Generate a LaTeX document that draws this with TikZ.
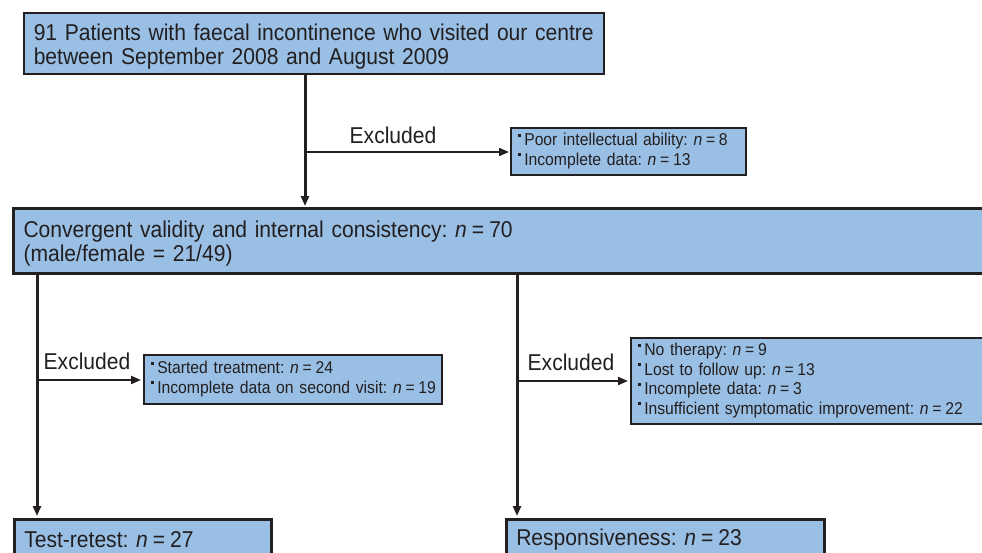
\documentclass[tikz,border=0pt]{standalone}
\usepackage{fontspec}
\setmainfont[FakeStretch=0.92]{Liberation Sans}
\usetikzlibrary{arrows.meta,calc}
\definecolor{boxblue}{RGB}{153,191,228}
\definecolor{edge}{RGB}{35,31,32}
\newcommand{\bul}{\raisebox{0.55em}{\rule{3pt}{3pt}}\hspace{3.5pt}}
\newcommand{\nn}{\textit{n}\hspace{0.22em}=\hspace{0.22em}}
\newcommand{\topstrut}{\rule{0pt}{22.5pt}}
\begin{document}
\frenchspacing
\begin{tikzpicture}[x=1pt,y=-1pt,
  bigbox/.style={draw=edge,fill=boxblue,anchor=north west,align=left,inner xsep=10pt,inner ysep=0pt,text=edge,font=\fontsize{22.9}{24}\selectfont\frenchspacing},
  smallbox/.style={draw=edge,fill=boxblue,line width=1.5pt,anchor=north west,align=left,inner xsep=7pt,inner ysep=0pt,text=edge,font=\fontsize{17.1}{19.5}\selectfont\frenchspacing},
  conn/.style={draw=edge,line width=3pt,-{Triangle[length=10pt,width=8pt]}},
  hconn/.style={draw=edge,line width=2pt,-{Triangle[length=10pt,width=8pt]}},
  lbl/.style={font=\fontsize{22.9}{24}\selectfont,text=edge,inner sep=0pt}]
\useasboundingbox (0,0) rectangle (982,552);
\clip (0,0) rectangle (982,552);
\fill[white] (0,0) rectangle (982,552);

\node[bigbox,line width=1.5pt,minimum width=580pt,minimum height=61pt,text width=560pt] (top) at (23,12)
  {\mbox{\topstrut 91 Patients with faecal incontinence who visited our centre}\\\mbox{between September 2008 and August 2009}};

\node[smallbox,minimum width=235pt,minimum height=47pt,text width=221pt] (ex1) at (510,127)
  {\mbox{\bul Poor intellectual ability: \nn 8}\\\mbox{\bul Incomplete data: \nn 13}};

\node[bigbox,line width=3pt,minimum width=990pt,minimum height=65pt,text width=970pt] (conv) at (12,207)
  {\mbox{\topstrut Convergent validity and internal consistency: \nn 70}\\\mbox{(male/female = 21/49)}};

\node[smallbox,minimum width=298pt,minimum height=49pt,text width=284pt] (ex2) at (143,354)
  {\mbox{\bul Started treatment: \nn 24}\\\mbox{\bul Incomplete data on second visit: \nn 19}};

\node[smallbox,minimum width=365pt,minimum height=86pt,text width=351pt] (ex3) at (630,337)
  {\mbox{\bul No therapy: \nn 9}\\\mbox{\bul Lost to follow up: \nn 13}\\\mbox{\bul Incomplete data: \nn 3}\\\mbox{\bul Insufficient symptomatic improvement: \nn 22}};

\node[bigbox,line width=2.5pt,minimum width=257pt,minimum height=40pt,text width=237pt] (test) at (13,518)
  {\mbox{Test-retest: \nn 27}};

\node[bigbox,line width=2.5pt,minimum width=318pt,minimum height=40pt,text width=298pt] (resp) at (505,518)
  {\mbox{Responsiveness: \nn 23}};

\coordinate (c1) at (305,0);
\coordinate (b1) at (305,152);
\coordinate (c2) at (37,0);
\coordinate (b2) at (37,380);
\coordinate (c3) at (517,0);
\coordinate (b3) at (517,381);

\draw[conn,shorten >=1pt] (top.south -| c1) -- (conv.north -| c1);
\draw[hconn,shorten >=1pt] (b1) -- (ex1.west |- b1);
\node[lbl] (l1) at (393,135) {Excluded};

\draw[conn,shorten >=2pt] (conv.south -| c2) -- (test.north -| c2);
\draw[hconn,shorten >=2pt] (b2) -- (ex2.west |- b2);
\node[lbl] (l2) at (87,361) {Excluded};

\draw[conn,shorten >=2pt] (conv.south -| c3) -- (resp.north -| c3);
\draw[hconn,shorten >=2pt] (b3) -- (ex3.west |- b3);
\node[lbl] (l3) at (571,362) {Excluded};
\end{tikzpicture}
\end{document}
